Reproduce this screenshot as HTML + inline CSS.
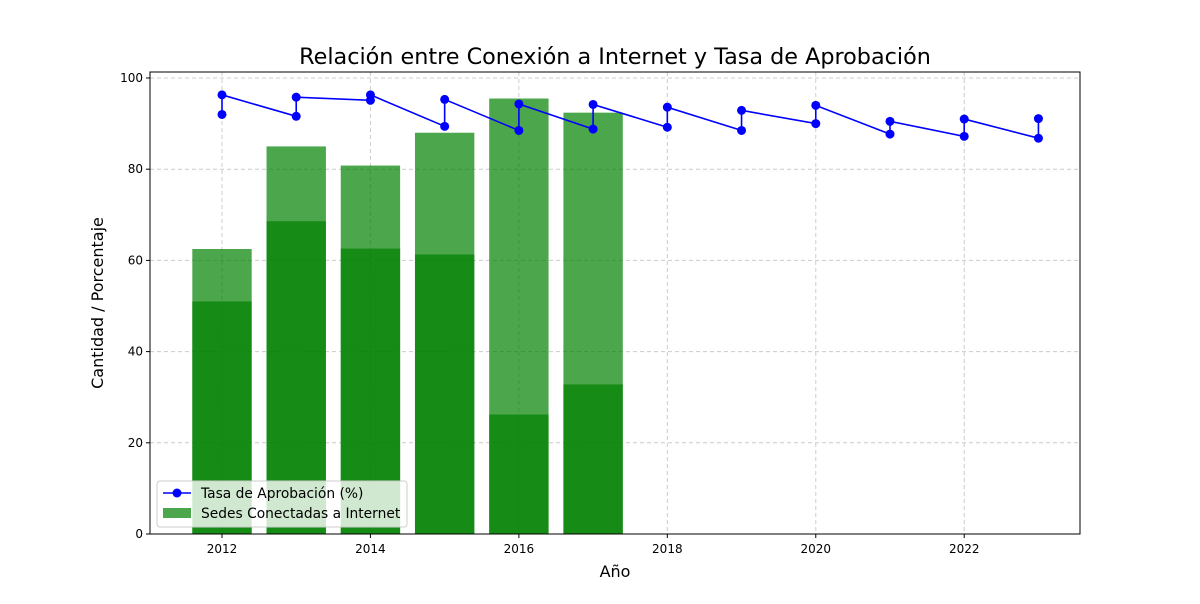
<!DOCTYPE html>
<html><head><meta charset="utf-8"><style>
body{margin:0;background:#fff;font-family:"DejaVu Sans",sans-serif}
</style></head><body>
<svg width="1200" height="600" xmlns="http://www.w3.org/2000/svg" font-family="DejaVu Sans, sans-serif">
<g id="grid"></g><g id="bars"></g><g id="line"></g><g id="axes"></g>
</svg>
<script>
const years=[2012,2013,2014,2015,2016,2017,2018,2019,2020,2021,2022,2023];
const rateFirst=[92.0,91.6,95.1,89.4,88.5,88.8,89.2,88.5,90.0,87.7,87.2,86.8];
const rateSecond=[96.3,95.8,96.3,95.3,94.3,94.2,93.6,92.9,94.0,90.5,91.0,91.1];
const barYears=[2012,2013,2014,2015,2016,2017];
const sedesA=[62.5,85.0,80.8,88.0,95.5,92.4];
const sedesB=[51.0,68.6,62.6,61.3,26.2,32.8];
const xTicks=[2012,2014,2016,2018,2020,2022];
const yTicks=[0,20,40,60,80,100];
const NS="http://www.w3.org/2000/svg";
const L=150,R=1080,T=72,B=534;
const x=v=>L+(v-2011.03)/(2023.56-2011.03)*(R-L);
const y=v=>B-v*4.56;
function mk(p,t,a){const e=document.createElementNS(NS,t);for(const k in a)e.setAttribute(k,a[k]);document.getElementById(p).appendChild(e);return e;}
xTicks.forEach(t=>{const e=mk('grid','line',{x1:x(t),x2:x(t),y1:T,y2:B,stroke:'#ccc','stroke-dasharray':'4,3'});

});
yTicks.forEach(t=>{const e=mk('grid','line',{x1:L,x2:R,y1:y(t),y2:y(t),stroke:'#ccc','stroke-dasharray':'4,3'});

});
const bw=(x(1)-x(0))*0.8;
[sedesA,sedesB].forEach(arr=>arr.forEach((v,i)=>{const e=mk('bars','rect',{x:x(barYears[i])-bw/2,y:y(v),width:bw,height:y(0)-y(v),fill:'#008000','fill-opacity':0.7});

}));
const pts=[];years.forEach((yr,i)=>{pts.push([x(yr),y(rateFirst[i])]);pts.push([x(yr),y(rateSecond[i])]);});
const pl=mk('line','polyline',{points:pts.map(p=>p.join(',')).join(' '),fill:'none',stroke:'#0000ff','stroke-width':1.6});


pts.forEach(p=>{const c=mk('line','circle',{cx:p[0],cy:p[1],r:4.5,fill:'#0000ff'});

});
const fr=mk('axes','rect',{x:L,y:T,width:R-L,height:B-T,fill:'none',stroke:'#000','stroke-width':1});


xTicks.forEach(t=>{mk('axes','line',{x1:x(t),x2:x(t),y1:B,y2:B+4,stroke:'#000'});
const e=mk('axes','text',{x:x(t),y:B+19,'text-anchor':'middle','font-size':12});e.textContent=t;

});
yTicks.forEach(t=>{mk('axes','line',{x1:L-4,x2:L,y1:y(t),y2:y(t),stroke:'#000'});
const e=mk('axes','text',{x:L-7,y:y(t)+4,'text-anchor':'end','font-size':12});e.textContent=t;

});
</script>
<svg style="position:absolute;left:0;top:0" width="1200" height="600" xmlns="http://www.w3.org/2000/svg" font-family="DejaVu Sans, sans-serif">
<text x="615" y="64" text-anchor="middle" font-size="22.3">Relación entre Conexión a Internet y Tasa de Aprobación</text>
<text x="615" y="577" text-anchor="middle" font-size="16">Año</text>
<text transform="translate(103,303) rotate(-90)" text-anchor="middle" font-size="16">Cantidad / Porcentaje</text>
<g>
<rect x="157" y="481" width="250" height="46" rx="3" fill="#fff" fill-opacity="0.8" stroke="#ccc"/>
<line x1="163" y1="493" x2="191" y2="493" stroke="#0000ff" stroke-width="1.6"/>
<circle cx="177" cy="493" r="4.5" fill="#0000ff"/>
<text x="201" y="498" font-size="13.8">Tasa de Aprobación (%)</text>
<rect x="163" y="508" width="28" height="10" fill="#008000" fill-opacity="0.7"/>
<text x="201" y="518" font-size="13.8">Sedes Conectadas a Internet</text>
</g>
</svg>
</body></html>
